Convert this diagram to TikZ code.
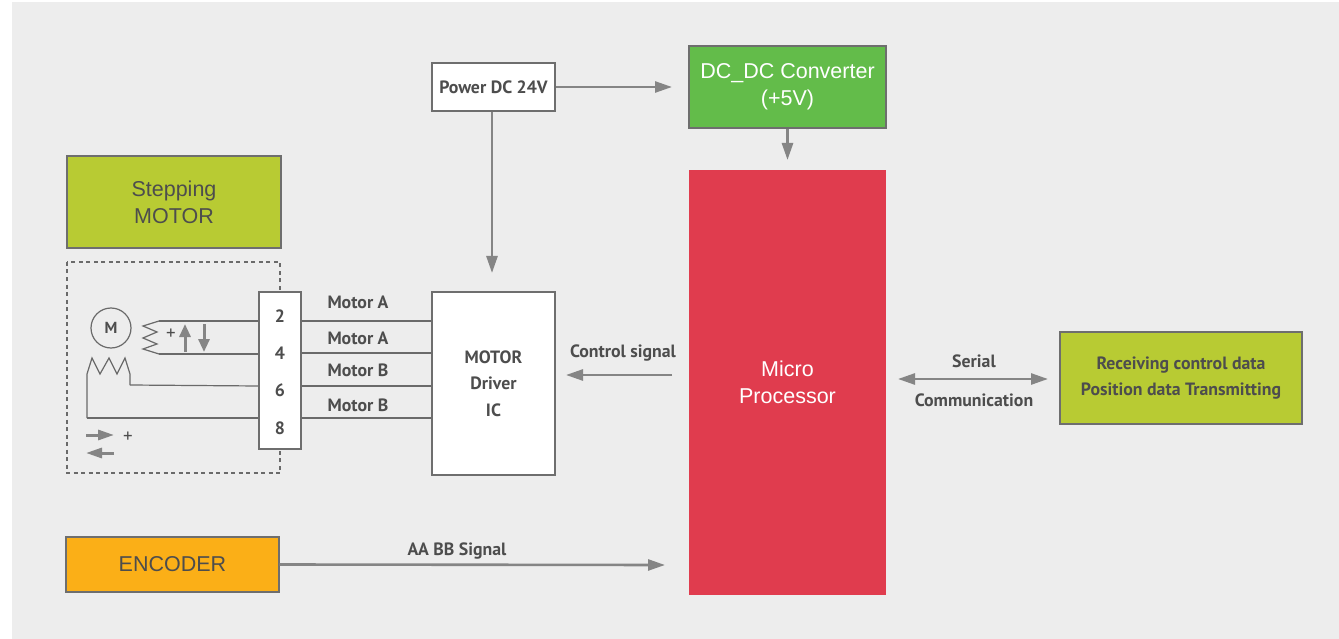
\documentclass[tikz,border=0pt]{standalone}
\usepackage{fontspec}
\setmainfont{PT Sans}
\newfontfamily\hv{Liberation Sans}
\usetikzlibrary{arrows.meta,calc}
\definecolor{bgc}{HTML}{EDEDED}
\definecolor{arrc}{HTML}{858585}
\definecolor{brd}{HTML}{6E6E6E}
\definecolor{wirec}{HTML}{6A6A6A}
\definecolor{txt}{HTML}{4D4D4D}
\definecolor{dcgreen}{HTML}{63BC4A}
\definecolor{mpred}{HTML}{E03C4E}
\definecolor{lime}{HTML}{B8CB33}
\definecolor{enc}{HTML}{FBAF17}
\tikzset{
  box/.style={draw=brd, line width=1.3pt, inner sep=0pt, align=center},
  lbl/.style={font=\fontsize{17.8}{26.5}\selectfont\bfseries, text=txt, align=center, inner sep=0pt},
  hvl/.style={font=\hv\fontsize{21.5}{27}\selectfont, align=center, inner sep=0pt},
  bigarrow/.style={draw=arrc, line width=2.6pt, -{Triangle[length=17pt,width=11pt]}},
  bigdarrow/.style={draw=arrc, line width=2.6pt, {Triangle[length=17pt,width=11pt]}-{Triangle[length=17pt,width=11pt]}},
  smallarrow/.style={draw=arrc, line width=3pt, -{Triangle[length=13pt,width=11pt]}},
  smallharrow/.style={draw=arrc, line width=3pt, -{Triangle[length=16pt,width=10pt]}},
  wire/.style={draw=wirec, line width=1.2pt},
  plus/.style={font=\fontsize{19}{19}\selectfont, text=txt, inner sep=0pt}
}
\begin{document}
\begin{tikzpicture}[x=1pt,y=-1pt]
\useasboundingbox (0,0) rectangle (1339,639);
\fill[white] (0,0) rectangle (1339,639);
\fill[bgc] (12,2) rectangle (1339,639);

% dashed motor enclosure
\draw[draw=wirec, line width=1.2pt, dash pattern=on 4pt off 3.5pt] (67,262) rectangle (280,473);

% boxes
\node[box, fill=white, minimum width=123pt, minimum height=48pt] (power) at (493.5,87) {};
\node[lbl] (powert) at (power.center) {Power DC 24V};
\node[box, fill=dcgreen, minimum width=197pt, minimum height=82pt, hvl, text=white] (dcdc) at (787.5,87) {DC\_DC Converter\\(+5V)};
\node[box, draw=none, fill=mpred, minimum width=197pt, minimum height=425pt, hvl, text=white] (micro) at (787.5,382.5) {Micro\\Processor};
\node[box, fill=white, minimum width=123pt, minimum height=183pt, lbl] (driver) at (493.5,383.5) {MOTOR\\Driver\\IC};
\node[box, fill=lime, minimum width=214pt, minimum height=92pt, hvl, text=txt] (stepm) at (174,202) {Stepping\\MOTOR};
\node[box, fill=enc, minimum width=213pt, minimum height=55pt, hvl, text=txt] (encoder) at (172.5,564.5) {ENCODER};
\node[box, fill=lime, minimum width=242pt, minimum height=92pt, lbl] (recv) at (1181,378) {Receiving control data\\Position data Transmitting};

% motor internals
\node[draw=wirec, line width=1.2pt, circle, minimum size=40pt, inner sep=0pt, font=\fontsize{16}{16}\selectfont\bfseries, text=txt] (motor) at (111,328) {M};
\draw[wire] (159,321) -- (143,326) -- (157,332) -- (143,338) -- (157,344) -- (143,349) -- (159,354);
\draw[wire] (87,418) -- (87,374) -- (92,358) -- (100,374) -- (109,358) -- (117,374) -- (125,358) -- (130,374) -- (130,385);

% pin box
\node[box, fill=white, minimum width=42pt, minimum height=157pt] (pins) at (280,370.5) {};
\node[lbl] (p2) at (280,316) {2};
\node[lbl] (p4) at (280,353) {4};
\node[lbl] (p6) at (280,390) {6};
\node[lbl] (p8) at (280,428) {8};

% wires inside enclosure
\draw[wire] (159,321) -- (pins.west |- 0,321);
\draw[wire] (159,354) -- (pins.west |- 0,354);
\draw[wire] (130,385) -- (pins.west |- 0,386);
\draw[wire] (87,418) -- (pins.west |- 0,418);

% wires to driver
\draw[wire] (pins.east |- 0,321) -- (driver.west |- 0,321);
\draw[wire] (pins.east |- 0,353) -- (driver.west |- 0,353);
\draw[wire] (pins.east |- 0,386) -- (driver.west |- 0,386);
\draw[wire] (pins.east |- 0,418) -- (driver.west |- 0,418);
\node[lbl] (la1) at (358,302) {Motor A};
\node[lbl] (la2) at (358,338) {Motor A};
\node[lbl] (lb1) at (358,370) {Motor B};
\node[lbl] (lb2) at (358,405) {Motor B};

% small direction arrows
\node[plus] (plus1) at (171,334) {+};
\coordinate (ua1) at (185,352); \coordinate (ua2) at (185,324);
\coordinate (da1) at (204,324); \coordinate (da2) at (204,352);
\draw[smallarrow] (ua1) -- (ua2);
\draw[smallarrow] (da1) -- (da2);
\coordinate (ra1) at (86,435); \coordinate (ra2) at (114,435);
\coordinate (la1c) at (114,453); \coordinate (la2c) at (86,453);
\draw[smallharrow] (ra1) -- (ra2);
\draw[smallharrow] (la1c) -- (la2c);
\node[plus] (plus2) at (128,437) {+};

% main arrows
\coordinate (pwrR) at (672,87);
\draw[bigarrow] (power.east) -- (pwrR);
\coordinate (pwrD) at (492,273);
\draw[bigarrow] (power.south -| 492,0) -- (pwrD);
\coordinate (dcD) at (787.5,160);
\draw[bigarrow] (dcdc.south) -- (dcD);
\coordinate (cs1) at (672,375); \coordinate (cs2) at (566,375);
\draw[bigarrow] (cs1) -- (cs2);
\node[lbl] (cst) at (623,353) {Control signal};
\coordinate (ser1) at (898,379); \coordinate (ser2) at (1048,379);
\draw[bigdarrow] (ser1) -- (ser2);
\node[lbl] (ser) at (974,361) {Serial};
\node[lbl] (comm) at (974,400) {Communication};
\coordinate (aab) at (665,565);
\draw[bigarrow] (encoder.east) -- (aab);
\node[lbl] (aat) at (457,551) {AA BB Signal};
\end{tikzpicture}
\end{document}
